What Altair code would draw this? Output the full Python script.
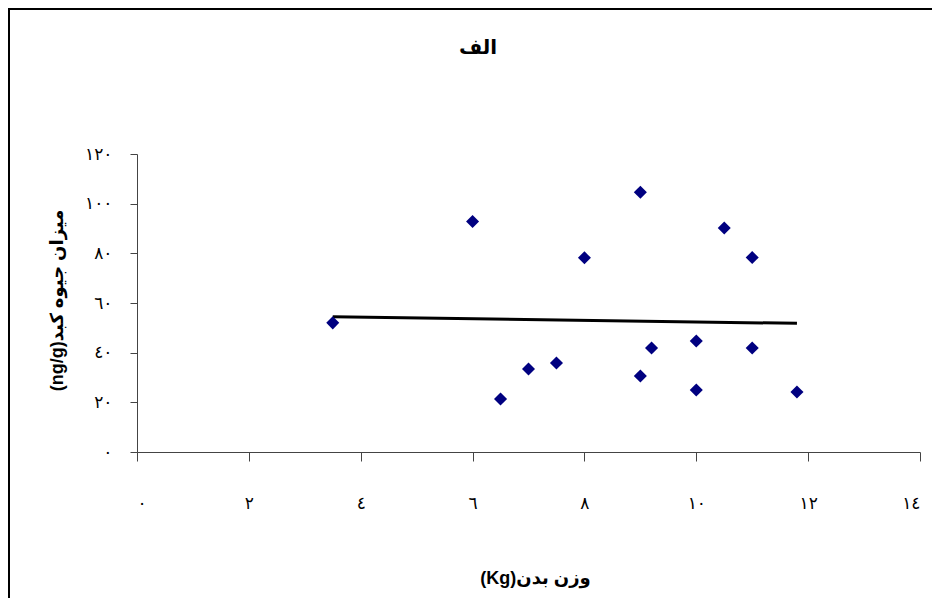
import altair as alt
import pandas as pd

# data
weight = [3.5, 6, 6.5, 7, 7.5, 8, 9, 9, 9.2, 10, 10, 10.5, 11, 11, 11.8]
mercury = [52, 92.8, 21.3, 33.4, 35.8, 78.2, 104.6, 30.6, 41.9, 44.7, 25, 90.2, 78.3, 41.9, 24.2]
trend_x = [3.5, 11.8]
trend_y = [54.5, 51.8]

x_ticks = [0, 2, 4, 6, 8, 10, 12, 14]
x_tick_labels = ["٠", "٢", "٤", "٦", "٨", "١٠", "١٢", "١٤"]
y_ticks = [0, 20, 40, 60, 80, 100, 120]
y_tick_labels = ["٠", "٢٠", "٤٠", "٦٠", "٨٠", "١٠٠", "١٢٠"]

title_text = "الف"
x_title = "(Kg)وزن بدن"
y_title = "(ng/g)میزان جیوه کبد"


def label_expr(ticks, labels):
    expr = "''"
    for t, l in reversed(list(zip(ticks, labels))):
        expr = f"datum.value == {t} ? '{l}' : ({expr})"
    return expr


pts = pd.DataFrame({"w": weight, "m": mercury})
trend = pd.DataFrame({"w": trend_x, "m": trend_y})

FONT = "Liberation Sans, DejaVu Sans, sans-serif"

xscale = alt.Scale(domain=[0, 14], nice=False, zero=False)
yscale = alt.Scale(domain=[0, 120], nice=False, zero=False)

xaxis = alt.Axis(
    values=x_ticks, labelExpr=label_expr(x_ticks, x_tick_labels), grid=False,
    tickSize=9, labelPadding=34, labelFontSize=17, labelFont=FONT, labelColor="black",
    domainColor="#444444", tickColor="#444444", title=x_title, titleFont=FONT,
    titleFontSize=18, titleFontWeight="bold", titleColor="black",
    titleX=398, titleY=126, titleBaseline="middle", titleAnchor="middle",
)
yaxis = alt.Axis(
    values=y_ticks, labelExpr=label_expr(y_ticks, y_tick_labels), grid=False,
    tickSize=7, labelPadding=18, labelFontSize=17, labelFont=FONT, labelColor="black",
    domainColor="#444444", tickColor="#444444", title=y_title, titleFont=FONT,
    titleFontSize=18, titleFontWeight="bold", titleColor="black",
    titleX=-80, titleY=146, titleBaseline="middle", titleAnchor="middle", titleAngle=270,
)

points = alt.Chart(pts).mark_point(
    shape="diamond", filled=True, color="#000080", size=170, opacity=1
).encode(
    x=alt.X("w:Q", scale=xscale, axis=xaxis),
    y=alt.Y("m:Q", scale=yscale, axis=yaxis),
)

line = alt.Chart(trend).mark_line(color="black", strokeWidth=3).encode(
    x=alt.X("w:Q", scale=xscale),
    y=alt.Y("m:Q", scale=yscale),
)

frame = alt.Chart(alt.Data(values=[{}])).mark_rect(
    fill=None, fillOpacity=0, stroke="black", strokeWidth=2, clip=False
).encode(
    x=alt.value(-128), x2=alt.value(900), y=alt.value(-145), y2=alt.value(600)
)

title = alt.Chart(alt.Data(values=[{}])).mark_text(
    font=FONT, fontSize=20, fontWeight="bold", color="black",
    align="center", baseline="middle", clip=False,
).encode(
    x=alt.value(341), y=alt.value(-106), text=alt.value(title_text)
)

chart = alt.layer(frame, line, points, title).properties(
    width=783, height=298,
    background="white",
    autosize=alt.AutoSizeParams(type="none"),
    padding={"left": 129, "top": 146, "right": 12, "bottom": 146},
).configure_view(stroke=None, strokeWidth=0)

chart.save("out.html", embed_options={"renderer": "svg", "actions": False})
